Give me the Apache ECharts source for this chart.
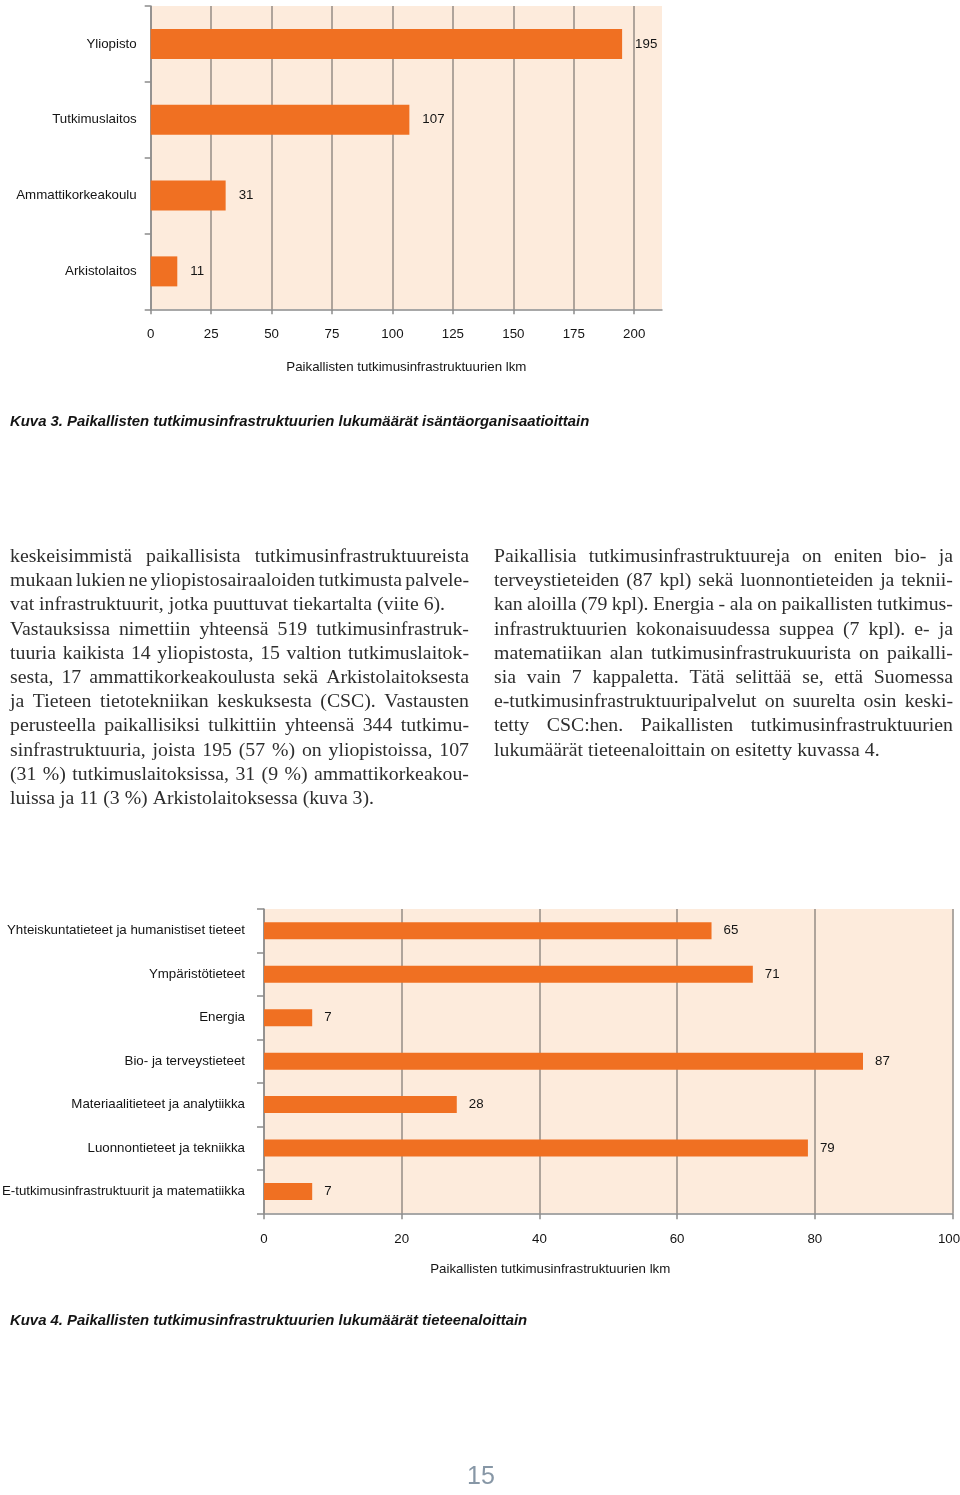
<!DOCTYPE html>
<html>
<head>
<meta charset="utf-8">
<script src="https://cdn.jsdelivr.net/npm/echarts@6/dist/echarts.min.js"></script>
<style>
  html, body { margin: 0; padding: 0; background: #ffffff; }
  #chart { position: absolute; left: 0; top: 0; width: 960px; height: 1495px; }
  .col { position: absolute; width: 459px; }
  .line { position: absolute; left: 0; width: 459px; height: 24.2px; line-height: 24.2px;
          font-family: "Liberation Serif", "Times New Roman", serif; font-size: 19.8px; color: #2e2e2e;
          display: flex; white-space: nowrap; }
  .line.j { justify-content: space-between; }
  .line.l span { margin-right: 0.25em; }
</style>
</head>
<body>
<div id="chart"></div>
<div id="colL" class="col" style="left:10px;top:0px;"></div>
<div id="colR" class="col" style="left:494px;top:0px;"></div>
<script>
// ---- Data ----
const orgCategories = ['Yliopisto', 'Tutkimuslaitos', 'Ammattikorkeakoulu', 'Arkistolaitos'];
const orgValues = [195, 107, 31, 11];
const orgTicks = [0, 25, 50, 75, 100, 125, 150, 175, 200];

const fieldCategories = [
  'Yhteiskuntatieteet ja humanistiset tieteet',
  'Ympäristötieteet',
  'Energia',
  'Bio- ja terveystieteet',
  'Materiaalitieteet ja analytiikka',
  'Luonnontieteet ja tekniikka',
  'E-tutkimusinfrastruktuurit ja matematiikka'
];
const fieldValues = [65, 71, 7, 87, 28, 79, 7];
const fieldTicks = [0, 20, 40, 60, 80, 100];

const axisName = 'Paikallisten tutkimusinfrastruktuurien lkm';
const caption3 = 'Kuva 3. Paikallisten tutkimusinfrastruktuurien lukumäärät isäntäorganisaatioittain';
const caption4 = 'Kuva 4. Paikallisten tutkimusinfrastruktuurien lukumäärät tieteenaloittain';
const pageNumber = '15';

const leftLines = [
  'keskeisimmistä paikallisista tutkimusinfrastruktuureista',
  'mukaan lukien ne yliopistosairaaloiden tutkimusta palvele-',
  'vat infrastruktuurit, jotka puuttuvat tiekartalta (viite 6).',
  'Vastauksissa nimettiin yhteensä 519 tutkimusinfrastruk-',
  'tuuria kaikista 14 yliopistosta, 15 valtion tutkimuslaitok-',
  'sesta, 17 ammattikorkeakoulusta sekä Arkistolaitoksesta',
  'ja Tieteen tietotekniikan keskuksesta (CSC). Vastausten',
  'perusteella paikallisiksi tulkittiin yhteensä 344 tutkimu-',
  'sinfrastruktuuria, joista 195 (57 %) on yliopistoissa, 107',
  '(31 %) tutkimuslaitoksissa, 31 (9 %) ammattikorkeakou-',
  'luissa ja 11 (3 %) Arkistolaitoksessa (kuva 3).'
];
const leftParagraphEnds = [2, 10];
const rightLines = [
  'Paikallisia tutkimusinfrastruktuureja on eniten bio- ja',
  'terveystieteiden (87 kpl) sekä luonnontieteiden ja teknii-',
  'kan aloilla (79 kpl). Energia - ala on paikallisten tutkimus-',
  'infrastruktuurien kokonaisuudessa suppea (7 kpl). e- ja',
  'matematiikan alan tutkimusinfrastrukuurista on paikalli-',
  'sia vain 7 kappaletta. Tätä selittää se, että Suomessa',
  'e-tutkimusinfrastruktuuripalvelut on suurelta osin keski-',
  'tetty CSC:hen. Paikallisten tutkimusinfrastruktuurien',
  'lukumäärät tieteenaloittain on esitetty kuvassa 4.'
];
const rightParagraphEnds = [8];

// ---- Body text ----
function buildColumn(id, lines, ends) {
  const col = document.getElementById(id);
  lines.forEach((ln, i) => {
    const d = document.createElement('div');
    d.className = 'line ' + (ends.indexOf(i) >= 0 ? 'l' : 'j');
    d.style.top = (543 + i * 24.2) + 'px';
    ln.split(' ').forEach(w => {
      const s = document.createElement('span');
      s.textContent = w;
      d.appendChild(s);
    });
    col.appendChild(d);
  });
}
buildColumn('colL', leftLines, leftParagraphEnds);
buildColumn('colR', rightLines, rightParagraphEnds);

// ---- Chart ----
const FONT = '"Liberation Sans", Arial, sans-serif';
const FS = 13.3;
const BAR = '#F07022';
const BG = '#FDEBDC';
const GRID = '#948c86';
const AXIS = '#8c8c8c';
const TXT = '#141414';

const chart = echarts.init(document.getElementById('chart'), null, { renderer: 'canvas' });

const lastField = fieldTicks[fieldTicks.length - 1];

const option = {
  animation: false,
  backgroundColor: '#ffffff',
  textStyle: { fontFamily: FONT },
  grid: [
    { left: 150.7, top: 6, width: 511.3, height: 303.3, show: true, backgroundColor: BG, borderWidth: 0, containLabel: false, outerBoundsMode: 'none' },
    { left: 264, top: 909, width: 688.5, height: 304.3, show: true, backgroundColor: BG, borderWidth: 0, containLabel: false, outerBoundsMode: 'none' }
  ],
  xAxis: [
    {
      type: 'value', gridIndex: 0, min: 0, max: 211.5, interval: 25,
      axisLine: { show: true, lineStyle: { color: AXIS, width: 1.5 } },
      axisTick: { show: true, length: 5, lineStyle: { color: AXIS, width: 1.5 }, customValues: orgTicks },
      axisLabel: { margin: 19, fontSize: FS, color: TXT, fontFamily: FONT, customValues: orgTicks },
      splitLine: { show: true, lineStyle: { color: GRID, width: 1.5 } },
      name: axisName, nameLocation: 'middle', nameGap: 52,
      nameTextStyle: { fontSize: FS, color: TXT, fontFamily: FONT }
    },
    {
      type: 'value', gridIndex: 1, min: 0, max: 100, interval: 20,
      axisLine: { show: true, lineStyle: { color: AXIS, width: 1.5 } },
      axisTick: { show: true, length: 6, lineStyle: { color: AXIS, width: 1.5 }, customValues: fieldTicks },
      axisLabel: {
        margin: 20, fontSize: FS, color: TXT, fontFamily: FONT, customValues: fieldTicks,
        formatter: v => (v === lastField ? '{m|' + v + '}' : String(v)),
        rich: { m: { fontSize: FS, color: TXT, fontFamily: FONT, padding: [0, 7, 0, 0] } }
      },
      splitLine: { show: true, lineStyle: { color: GRID, width: 1.5 } },
      name: axisName, nameLocation: 'middle', nameGap: 50,
      nameTextStyle: { fontSize: FS, color: TXT, fontFamily: FONT, padding: [0, 116, 0, 0] }
    }
  ],
  yAxis: [
    {
      type: 'category', gridIndex: 0, inverse: true, data: orgCategories,
      axisLine: { show: true, lineStyle: { color: AXIS, width: 1.5 } },
      axisTick: { show: true, length: 6, lineStyle: { color: AXIS, width: 1.5 } },
      axisLabel: { margin: 14, fontSize: FS, color: TXT, fontFamily: FONT },
      splitLine: { show: false }
    },
    {
      type: 'category', gridIndex: 1, inverse: true, data: fieldCategories,
      axisLine: { show: true, lineStyle: { color: AXIS, width: 1.5 } },
      axisTick: { show: true, length: 7, lineStyle: { color: AXIS, width: 1.5 } },
      axisLabel: { margin: 19, fontSize: FS, color: TXT, fontFamily: FONT },
      splitLine: { show: false }
    }
  ],
  series: [
    {
      type: 'bar', xAxisIndex: 0, yAxisIndex: 0, data: orgValues, barWidth: 30,
      itemStyle: { color: BAR },
      label: { show: true, position: 'right', distance: 13, fontSize: FS, color: TXT, fontFamily: FONT }
    },
    {
      type: 'bar', xAxisIndex: 1, yAxisIndex: 1, data: fieldValues, barWidth: 17,
      itemStyle: { color: BAR },
      label: { show: true, position: 'right', distance: 12, fontSize: FS, color: TXT, fontFamily: FONT }
    }
  ],
  graphic: [
    { type: 'text', x: 10, y: 422, style: { text: caption3, fill: TXT, fontFamily: FONT, fontSize: 14.9, fontWeight: 'bold', fontStyle: 'italic', verticalAlign: 'middle' } },
    { type: 'text', x: 10, y: 1321, style: { text: caption4, fill: TXT, fontFamily: FONT, fontSize: 14.9, fontWeight: 'bold', fontStyle: 'italic', verticalAlign: 'middle' } },
    { type: 'text', x: 481, y: 1477, style: { text: pageNumber, fill: '#8797a6', fontFamily: FONT, fontSize: 25, align: 'center', verticalAlign: 'middle' } }
  ]
};
chart.setOption(option);
</script>
</body>
</html>
